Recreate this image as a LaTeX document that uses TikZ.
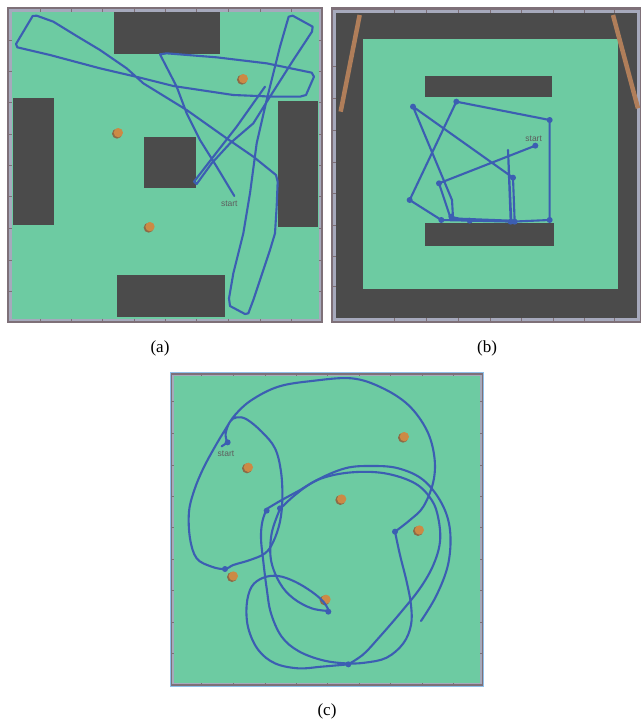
\documentclass[tikz,border=0pt]{standalone}
\usepackage{fontspec}
\setmainfont{Liberation Serif}
\newfontfamily\startfont{Liberation Sans}
\definecolor{floorgreen}{HTML}{6DCBA2}
\definecolor{wallgray}{HTML}{4B4B4B}
\definecolor{trackblue}{HTML}{3C5EB2}
\definecolor{canorange}{HTML}{CC8A45}
\definecolor{canshadow}{HTML}{8C6A46}
\definecolor{frameouter}{HTML}{7E7078}
\definecolor{frameinner}{HTML}{A6A9BC}
\definecolor{framesky}{HTML}{8EC0EA}
\definecolor{polebrown}{HTML}{B07E5A}
\newcommand{\can}[2]{%
  \fill[canshadow] (#1-4,#2+3) circle (15);
  \fill[canorange] (#1,#2) circle (14);}
\begin{document}
\begin{tikzpicture}[x=1pt,y=-1pt]
  \tikzset{wall/.style = {fill=wallgray},
           track/.style = {draw=trackblue, line width=2.1pt, line join=round, line cap=round},
           tick/.style = {draw=frameouter, line width=0.6pt},
           stop/.style = {fill=trackblue},
           startlabel/.style = {font=\startfont\fontsize{8.5}{9}\selectfont, text=wallgray!90, inner sep=0pt},
           caption/.style = {font=\fontsize{17}{19}\selectfont, inner sep=0pt}}
  \useasboundingbox (0,0) rectangle (640,723);

  % (a)
  \begin{scope}[scale=1/3]
    \fill[frameouter] (22,22) rectangle (970,970);
    \fill[frameinner] (28,28) rectangle (964,964);
    \fill[floorgreen] (36,36) rectangle (956,956);
    \foreach \t in {120,215,308,403,497,590,684,780,873} {
      \draw[tick] (\t,24) -- (\t,36);
      \draw[tick] (\t,956) -- (\t,968);
      \draw[tick] (24,\t) -- (36,\t);
      \draw[tick] (956,\t) -- (968,\t);
    }
    \fill[wall] (342,37) rectangle (660,163);
    \fill[wall] (38,295) rectangle (163,676);
    \fill[wall] (432,412) rectangle (588,565);
    \fill[wall] (833,302) rectangle (953,680);
    \fill[wall] (352,826) rectangle (674,950);
    \can{730}{236}
    \can{355}{398}
    \can{450}{680}
    \draw[track] (703,588) -- (650,500) -- (600,420) -- (560,340) -- (530,260) -- (480,163)
      -- (500,160) -- (650,172) -- (800,190) -- (935,218) -- (942,230) -- (918,285)
      -- (900,290) -- (820,290) -- (700,285) -- (600,270) -- (520,258) -- (420,233)
      -- (300,205) -- (150,165) -- (52,142) -- (48,132) -- (98,48) -- (110,47)
      -- (160,65) -- (230,108) -- (300,150) -- (380,205) -- (430,250) -- (560,330)
      -- (680,415) -- (760,470) -- (828,525) -- (833,545) -- (830,620) -- (825,700)
      -- (810,750) -- (790,810) -- (760,900) -- (745,940) -- (735,942) -- (690,918)
      -- (687,895) -- (700,820) -- (730,700) -- (750,580) -- (770,430) -- (800,300)
      -- (840,140) -- (866,50) -- (878,47) -- (938,80) -- (936,95) -- (880,180)
      -- (810,290) -- (760,370) -- (690,430) -- (635,490) -- (590,552) -- (582,545)
      -- (640,470) -- (710,380) -- (795,260);
    \node[startlabel] (sa) at (688,610) {start};
  \end{scope}

  % (b)
  \begin{scope}[shift={(328,0)}, scale=1/3]
    \fill[frameouter] (8,22) rectangle (945,968);
    \fill[frameinner] (14,30) rectangle (936,962);
    \fill[wall] (24,40) rectangle (927,955);
    \foreach \t in {200,295,390,487,580,675,770,860} {
      \draw[tick] (14,\t) -- (24,\t);
      \draw[tick] (\t,955) -- (\t,962);
      \draw[tick] (\t,30) -- (\t,40);
    }
    \fill[floorgreen] (105,118) rectangle (870,868);
    \fill[wall] (290,228) rectangle (673,292);
    \fill[wall] (290,668) rectangle (678,738);
    \draw[polebrown, line width=4.5pt] (95,45) -- (38,335);
    \draw[polebrown, line width=4.5pt] (855,45) -- (930,325);
    \draw[track] (622,437) -- (333,550) -- (368,655) -- (548,662) -- (540,450) -- (550,665)
      -- (665,660) -- (665,360) -- (385,305) -- (245,600) -- (340,660) -- (560,665)
      -- (555,533) -- (255,320) -- (372,600) -- (375,652) -- (425,662);
    \foreach \p in {(622,437),(333,550),(665,360),(385,305),(245,600),(255,320),(555,533),
                    (665,660),(340,660),(425,662),(548,665),(560,665),(370,650)}
      \fill[stop] \p circle (9);
    \node[startlabel] (sb) at (617,415) {start};
  \end{scope}

  % (c)
  \begin{scope}[shift={(165,365)}, scale=1/3]
    \fill[framesky] (14,20) rectangle (958,967);
    \fill[frameouter] (18,25) rectangle (954,962);
    \fill[frameinner] (22,29) rectangle (950,958);
    \fill[floorgreen] (26,33) rectangle (946,954);
    \foreach \t in {110,205,300,395,488,582,677,772,865} {
      \draw[tick] (\t,25) -- (\t,33);
      \draw[tick] (\t,954) -- (\t,962);
      \draw[tick] (18,\t) -- (26,\t);
      \draw[tick] (946,\t) -- (954,\t);
    }
    \can{718}{215}
    \can{250}{307}
    \can{530}{402}
    \can{763}{495}
    \can{205}{633}
    \can{483}{703}
    \draw[track] (170,244) -- (188,232);
    \draw[track] plot[smooth, tension=0.6] coordinates {(186,230) (182,205) (195,170) (215,157)
      (245,163) (290,200) (330,250) (348,320) (352,400) (345,470) (325,530) (300,565)
      (255,585) (205,600) (180,612) (140,605) (95,580) (75,520) (72,440) (88,375)
      (115,310) (150,245) (180,195) (210,150) (260,105) (340,65) (440,48) (560,40)
      (650,68) (730,120) (785,195) (808,275) (805,350) (775,425) (735,465) (690,500)};
    \draw[track] plot[smooth, tension=0.6] coordinates {(690,500) (705,570) (725,650)
      (738,720) (738,780) (715,835) (665,878) (600,893) (540,895) (470,885) (400,858)
      (350,815) (318,745) (305,670) (295,590) (288,520) (292,470) (305,432)};
    \draw[track] plot[smooth, tension=0.6] coordinates {(305,432) (345,408) (400,378)
      (470,340) (560,322) (660,325) (750,355) (800,405) (820,460) (825,530) (805,600)
      (765,670) (705,745) (640,820) (595,868) (550,898)};
    \draw[track] plot[smooth, tension=0.6] coordinates {(550,898) (470,905) (400,910)
      (330,895) (280,855) (250,790) (245,720) (260,665) (295,638) (340,633) (390,650)
      (440,680) (475,710) (492,738)};
    \draw[track] plot[smooth, tension=0.6] coordinates {(492,738) (440,730) (385,700)
      (345,655) (318,585) (320,505) (345,432)};
    \draw[track] plot[smooth, tension=0.6] coordinates {(345,432) (390,390) (450,348)
      (540,310) (620,303) (700,310) (775,345) (830,415) (855,495) (850,595) (815,690)
      (768,768)};
    \foreach \p in {(188,232),(305,437),(345,430),(690,500),(550,898),(490,740),(180,612)}
      \fill[stop] \p circle (9);
    \node[startlabel] (sc) at (183,267) {start};
  \end{scope}

  \node[caption] (la) at (160,348) {(a)};
  \node[caption] (lb) at (487,348) {(b)};
  \node[caption] (lc) at (327,711) {(c)};
\end{tikzpicture}
\end{document}
